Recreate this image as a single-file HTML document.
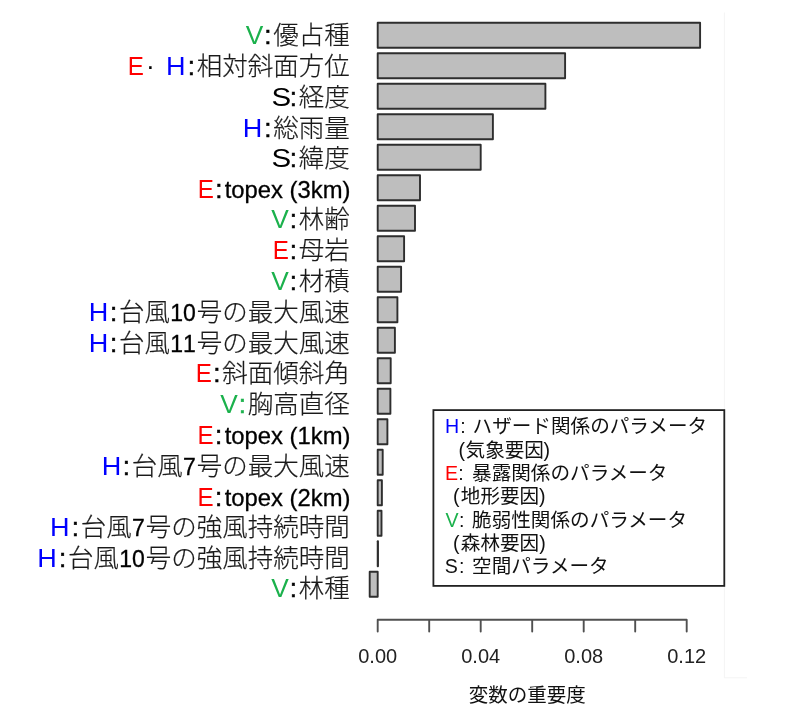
<!DOCTYPE html>
<html lang="ja">
<head>
<meta charset="utf-8">
<title>変数の重要度</title>
<style>
html,body{margin:0;padding:0;background:#fff;}
body{width:797px;height:718px;overflow:hidden;}
svg{display:block;}
text{font-family:"Liberation Sans","Noto Sans CJK JP",sans-serif;}
.cap{font-family:"Liberation Sans",sans-serif;font-size:26.3px;}
.lab{text-anchor:end;fill:#111;}
.col{stroke-width:0.5px;}
.jp{font-family:"Noto Sans CJK JP","Liberation Sans",sans-serif;fill:#1a1a1a;font-weight:300;stroke:#1a1a1a;stroke-width:0.2px;}
.n{fill:#000;stroke:#000;stroke-width:0.3px;font-kerning:none;}
.bar{fill:#bebebe;stroke:#2e2e2e;stroke-width:1.9;stroke-linejoin:round;}
.ax{fill:none;stroke:#505050;stroke-width:1.9;stroke-linecap:round;stroke-linejoin:round;}
.tick{font-size:20px;fill:#222;text-anchor:middle;}
.leg{font-size:19.6px;fill:#111;}
.lj{font-family:"Noto Sans CJK JP","Liberation Sans",sans-serif;fill:#111;}
</style>
</head>
<body>
<svg width="797" height="718" viewBox="0 0 797 718">
<rect x="0" y="0" width="797" height="718" fill="#ffffff"/>

<path d="M724.4 12.5V677.8H747" fill="none" stroke="#f4f4f4" stroke-width="1"/>
<g class="bars">
<rect class="bar" x="377.7" y="22.8" width="322.4" height="25.0"/>
<rect class="bar" x="377.7" y="53.3" width="187.4" height="25.0"/>
<rect class="bar" x="377.7" y="83.8" width="167.7" height="25.0"/>
<rect class="bar" x="377.7" y="114.3" width="115.2" height="25.0"/>
<rect class="bar" x="377.7" y="144.8" width="103.0" height="25.0"/>
<rect class="bar" x="377.7" y="175.3" width="42.3" height="25.0"/>
<rect class="bar" x="377.7" y="205.8" width="37.3" height="25.0"/>
<rect class="bar" x="377.7" y="236.3" width="26.4" height="25.0"/>
<rect class="bar" x="377.7" y="266.8" width="23.4" height="25.0"/>
<rect class="bar" x="377.7" y="297.3" width="19.7" height="25.0"/>
<rect class="bar" x="377.7" y="327.8" width="17.2" height="25.0"/>
<rect class="bar" x="377.7" y="358.3" width="13.0" height="25.0"/>
<rect class="bar" x="377.7" y="388.8" width="12.7" height="25.0"/>
<rect class="bar" x="377.7" y="419.3" width="9.7" height="25.0"/>
<rect class="bar" x="377.7" y="449.8" width="5.0" height="25.0"/>
<rect class="bar" x="377.7" y="480.3" width="4.2" height="25.0"/>
<rect class="bar" x="377.7" y="510.8" width="3.8" height="25.0"/>
<rect class="bar" x="377.7" y="541.3" width="0.3" height="25.0"/>
<rect class="bar" x="369.7" y="571.8" width="8.0" height="25.0"/>
</g>
<path class="ax" d="M377.7 631.5V619.8H686.7V631.5M429.2 619.8V631.5M480.7 619.8V631.5M532.2 619.8V631.5M583.7 619.8V631.5M635.2 619.8V631.5"/>
<text class="tick" x="377.7" y="663.3">0.00</text>
<text class="tick" x="480.7" y="663.3">0.04</text>
<text class="tick" x="583.7" y="663.3">0.08</text>
<text class="tick" x="686.7" y="663.3">0.12</text>
<text x="527.2" y="701.5" font-size="19.5" text-anchor="middle" class="lj">変数の重要度</text>
<g class="labels">
<text class="cap" x="245.75" y="44.0" fill="#1bb14c">V</text>
<text class="lab" x="349.8" y="44.0"><tspan class="col" font-size="26.0" fill="#000" stroke="#000">:</tspan><tspan class="jp" font-size="25.5" dx="1.8">優占種</tspan></text>
<text class="cap" transform="translate(127.67 75.1) scale(0.92 1)" fill="#ff0000">E</text>
<text class="cap" x="145.90" y="75.1" fill="#000">·</text>
<text class="cap" transform="translate(166.04 75.1) scale(1.03 1)" fill="#0000ff">H</text>
<text class="lab" x="349.8" y="75.1"><tspan class="col" font-size="26.0" fill="#000" stroke="#000">:</tspan><tspan class="jp" font-size="25.5" dx="1.8">相対斜面方位</tspan></text>
<text class="cap" transform="translate(271.40 106.0) scale(1.12 1)" fill="#000">S</text>
<text class="lab" x="349.8" y="106.0"><tspan class="col" font-size="26.0" fill="#000" stroke="#000">:</tspan><tspan class="jp" font-size="25.5" dx="1.8">経度</tspan></text>
<text class="cap" transform="translate(242.84 136.5) scale(1.03 1)" fill="#0000ff">H</text>
<text class="lab" x="349.8" y="136.5"><tspan class="col" font-size="26.0" fill="#000" stroke="#000">:</tspan><tspan class="jp" font-size="25.5" dx="1.8">総雨量</tspan></text>
<text class="cap" transform="translate(271.40 167.3) scale(1.12 1)" fill="#000">S</text>
<text class="lab" x="349.8" y="167.3"><tspan class="col" font-size="26.0" fill="#000" stroke="#000">:</tspan><tspan class="jp" font-size="25.5" dx="1.8">緯度</tspan></text>
<text class="cap" transform="translate(197.67 198.3) scale(0.92 1)" fill="#ff0000">E</text>
<text class="lab" x="350.4" y="198.3"><tspan class="col" font-size="26.0" fill="#000" stroke="#000">:</tspan><tspan class="n" font-size="23.8" dx="2.4">topex (3km)</tspan></text>
<text class="cap" x="271.25" y="227.9" fill="#1bb14c">V</text>
<text class="lab" x="349.8" y="227.9"><tspan class="col" font-size="26.0" fill="#000" stroke="#000">:</tspan><tspan class="jp" font-size="25.5" dx="1.8">林齢</tspan></text>
<text class="cap" transform="translate(272.67 259.2) scale(0.92 1)" fill="#ff0000">E</text>
<text class="lab" x="349.8" y="259.2"><tspan class="col" font-size="26.0" fill="#000" stroke="#000">:</tspan><tspan class="jp" font-size="25.5" dx="1.8">母岩</tspan></text>
<text class="cap" x="271.25" y="289.9" fill="#1bb14c">V</text>
<text class="lab" x="349.8" y="289.9"><tspan class="col" font-size="26.0" fill="#000" stroke="#000">:</tspan><tspan class="jp" font-size="25.5" dx="1.8">材積</tspan></text>
<text class="cap" transform="translate(88.74 320.9) scale(1.03 1)" fill="#0000ff">H</text>
<text class="lab" x="349.8" y="320.9"><tspan class="col" font-size="26.0" fill="#000" stroke="#000">:</tspan><tspan class="jp" font-size="25.5" dx="1.8">台風</tspan><tspan class="n" font-size="23.0" dx="0.2">10</tspan><tspan class="jp" font-size="25.5" dx="1">号の最大風速</tspan></text>
<text class="cap" transform="translate(88.74 352.0) scale(1.03 1)" fill="#0000ff">H</text>
<text class="lab" x="349.8" y="352.0"><tspan class="col" font-size="26.0" fill="#000" stroke="#000">:</tspan><tspan class="jp" font-size="25.5" dx="1.8">台風</tspan><tspan class="n" font-size="23.0" dx="0.2">11</tspan><tspan class="jp" font-size="25.5" dx="1">号の最大風速</tspan></text>
<text class="cap" transform="translate(195.87 382.0) scale(0.92 1)" fill="#ff0000">E</text>
<text class="lab" x="349.8" y="382.0"><tspan class="col" font-size="26.0" fill="#000" stroke="#000">:</tspan><tspan class="jp" font-size="25.5" dx="1.8">斜面傾斜角</tspan></text>
<text class="cap" x="220.25" y="413.0" fill="#1bb14c">V</text>
<text class="lab" x="349.8" y="413.0"><tspan class="col" font-size="26.0" fill="#1bb14c" stroke="#1bb14c">:</tspan><tspan class="jp" font-size="25.5" dx="1.8">胸高直径</tspan></text>
<text class="cap" transform="translate(197.57 443.7) scale(0.92 1)" fill="#ff0000">E</text>
<text class="lab" x="350.4" y="443.7"><tspan class="col" font-size="26.0" fill="#000" stroke="#000">:</tspan><tspan class="n" font-size="23.8" dx="2.6">topex (1km)</tspan></text>
<text class="cap" transform="translate(101.64 474.8) scale(1.03 1)" fill="#0000ff">H</text>
<text class="lab" x="349.8" y="474.8"><tspan class="col" font-size="26.0" fill="#000" stroke="#000">:</tspan><tspan class="jp" font-size="25.5" dx="1.8">台風</tspan><tspan class="n" font-size="23.0" dx="0.2">7</tspan><tspan class="jp" font-size="25.5" dx="1">号の最大風速</tspan></text>
<text class="cap" transform="translate(197.57 506.1) scale(0.92 1)" fill="#ff0000">E</text>
<text class="lab" x="350.4" y="506.1"><tspan class="col" font-size="26.0" fill="#000" stroke="#000">:</tspan><tspan class="n" font-size="23.8" dx="2.6">topex (2km)</tspan></text>
<text class="cap" transform="translate(50.04 536.1) scale(1.03 1)" fill="#0000ff">H</text>
<text class="lab" x="349.8" y="536.1"><tspan class="col" font-size="26.0" fill="#000" stroke="#000">:</tspan><tspan class="jp" font-size="25.5" dx="1.8">台風</tspan><tspan class="n" font-size="23.0" dx="0.2">7</tspan><tspan class="jp" font-size="25.5" dx="1">号の強風持続時間</tspan></text>
<text class="cap" transform="translate(37.24 566.8) scale(1.03 1)" fill="#0000ff">H</text>
<text class="lab" x="349.8" y="566.8"><tspan class="col" font-size="26.0" fill="#000" stroke="#000">:</tspan><tspan class="jp" font-size="25.5" dx="1.8">台風</tspan><tspan class="n" font-size="23.0" dx="0.2">10</tspan><tspan class="jp" font-size="25.5" dx="1">号の強風持続時間</tspan></text>
<text class="cap" x="271.25" y="597.2" fill="#1bb14c">V</text>
<text class="lab" x="349.8" y="597.2"><tspan class="col" font-size="26.0" fill="#000" stroke="#000">:</tspan><tspan class="jp" font-size="25.5" dx="1.8">林種</tspan></text>
</g>
<rect x="433.4" y="410.1" width="290.9" height="175.8" fill="#fff" stroke="#222" stroke-width="1.8"/>
<text class="leg" y="433.2"><tspan x="445.05" fill="#0000ff">H</tspan><tspan x="460.3">:</tspan><tspan class="lj" x="472.6">ハザード関係のパラメータ</tspan></text>
<text class="leg" y="456.5"><tspan x="458.6">(</tspan><tspan class="lj" x="465.6">気象要因</tspan><tspan x="543.6">)</tspan></text>
<text class="leg" y="480.0"><tspan x="445.05" fill="#ff0000">E</tspan><tspan x="458.3">:</tspan><tspan class="lj" x="472.1">暴露関係のパラメータ</tspan></text>
<text class="leg" y="503.2"><tspan x="452.9">(</tspan><tspan class="lj" x="460.8">地形要因</tspan><tspan x="538.9">)</tspan></text>
<text class="leg" y="526.6"><tspan x="445.5" fill="#1bb14c">V</tspan><tspan x="458.9">:</tspan><tspan class="lj" x="472.1">脆弱性関係のパラメータ</tspan></text>
<text class="leg" y="549.8"><tspan x="452.9">(</tspan><tspan class="lj" x="460.8">森林要因</tspan><tspan x="539.2">)</tspan></text>
<text class="leg" y="572.6"><tspan x="444.7" fill="#111">S</tspan><tspan x="458.9">:</tspan><tspan class="lj" x="472.1">空間パラメータ</tspan></text>
</svg>
</body>
</html>
